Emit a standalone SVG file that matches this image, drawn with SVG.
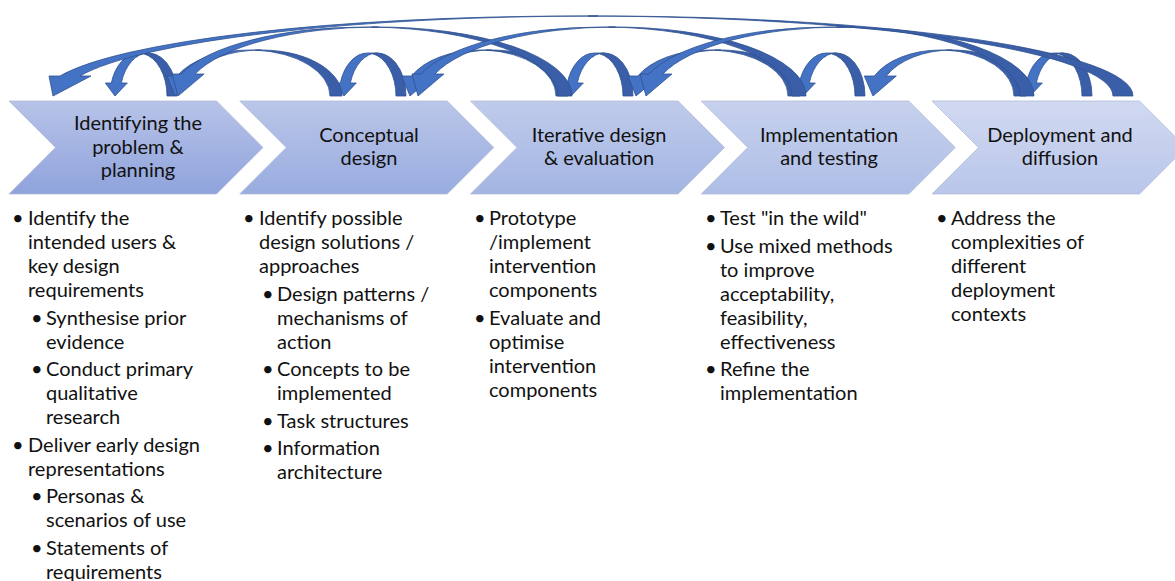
<svg xmlns="http://www.w3.org/2000/svg" xmlns:xlink="http://www.w3.org/1999/xlink" width="1175" height="581" viewBox="0 0 1175 581">
<defs>
<linearGradient id="g1" x1="0" y1="0" x2="0" y2="1"><stop offset="0" stop-color="#B7C3E8"/><stop offset="1" stop-color="#8FA3DC"/></linearGradient>
<linearGradient id="g2" x1="0" y1="0" x2="0" y2="1"><stop offset="0" stop-color="#BAC6E9"/><stop offset="1" stop-color="#98ACDF"/></linearGradient>
<linearGradient id="g3" x1="0" y1="0" x2="0" y2="1"><stop offset="0" stop-color="#C0CBEB"/><stop offset="1" stop-color="#A3B5E3"/></linearGradient>
<linearGradient id="g4" x1="0" y1="0" x2="0" y2="1"><stop offset="0" stop-color="#C7D1EE"/><stop offset="1" stop-color="#AEBEE6"/></linearGradient>
<linearGradient id="g5" x1="0" y1="0" x2="0" y2="1"><stop offset="0" stop-color="#D1D9F1"/><stop offset="1" stop-color="#B9C6EA"/></linearGradient>
<path id="chev" d="M0,101 L207.5,101 L254,147.5 L207.5,194 L0,194 L46.5,147.5 Z"/>
<g id="sm">
<path class="lt" d="M-25,96 L-12.67,83 L-18.67,83 A28.5,43 0 0 1 8.5,53 L-1.5,53 A28.5,43 0 0 0 -28.67,83 L-34.67,83 Z"/>
<path class="dk" d="M37,96 A28.5,43 0 0 0 3.5,53.67 A28.5,43 0 0 1 27,96 Z"/>
</g>
</defs>
<style>
.chev{stroke:#B3BCD8;stroke-width:0.8}
.lbl{font-family:Lato,'Liberation Sans',sans-serif;font-size:20px;fill:#111111;text-anchor:middle}
.txt{font-family:Lato,'Liberation Sans',sans-serif;font-size:20px;fill:#111111}
.lt{fill:#4472C4;stroke:#2F528F;stroke-width:0.8}
.dk{fill:#3A5FA8;stroke:#2F528F;stroke-width:0.8}
</style>
<rect width="1175" height="581" fill="#FFFFFF"/>

<g id="phase1">
<use xlink:href="#chev" href="#chev" class="chev" fill="url(#g1)" transform="translate(9,0)"/>
<text class="lbl" x="138" y="130">Identifying the</text>
<text class="lbl" x="138" y="153.5">problem &amp;</text>
<text class="lbl" x="138" y="177">planning</text>
<g class="txt">
<text x="12" y="225">•</text><text x="28" y="225">Identify the</text>
<text x="28" y="249">intended users &amp;</text>
<text x="28" y="273">key design</text>
<text x="28" y="297">requirements</text>
<text x="31" y="324.6">•</text><text x="46" y="324.6">Synthesise prior</text>
<text x="46" y="348.6">evidence</text>
<text x="31" y="376.2">•</text><text x="46" y="376.2">Conduct primary</text>
<text x="46" y="400.2">qualitative</text>
<text x="46" y="424.2">research</text>
<text x="12" y="451.8">•</text><text x="28" y="451.8">Deliver early design</text>
<text x="28" y="475.8">representations</text>
<text x="31" y="503.4">•</text><text x="46" y="503.4">Personas &amp;</text>
<text x="46" y="527.4">scenarios of use</text>
<text x="31" y="555">•</text><text x="46" y="555">Statements of</text>
<text x="46" y="579">requirements</text>
</g>
</g>

<g id="phase2">
<use xlink:href="#chev" href="#chev" class="chev" fill="url(#g2)" transform="translate(239.75,0)"/>
<text class="lbl" x="369" y="141.75">Conceptual</text>
<text class="lbl" x="369" y="165.25">design</text>
<g class="txt">
<text x="243" y="225">•</text><text x="259" y="225">Identify possible</text>
<text x="259" y="249">design solutions /</text>
<text x="259" y="273">approaches</text>
<text x="262" y="300.6">•</text><text x="277" y="300.6">Design patterns /</text>
<text x="277" y="324.6">mechanisms of</text>
<text x="277" y="348.6">action</text>
<text x="262" y="376.2">•</text><text x="277" y="376.2">Concepts to be</text>
<text x="277" y="400.2">implemented</text>
<text x="262" y="427.8">•</text><text x="277" y="427.8">Task structures</text>
<text x="262" y="455.4">•</text><text x="277" y="455.4">Information</text>
<text x="277" y="479.4">architecture</text>
</g>
</g>

<g id="phase3">
<use xlink:href="#chev" href="#chev" class="chev" fill="url(#g3)" transform="translate(470.5,0)"/>
<text class="lbl" x="599" y="141.75">Iterative design</text>
<text class="lbl" x="599" y="165.25">&amp; evaluation</text>
<g class="txt">
<text x="474" y="225">•</text><text x="489" y="225">Prototype</text>
<text x="489" y="249">/implement</text>
<text x="489" y="273">intervention</text>
<text x="489" y="297">components</text>
<text x="474" y="324.6">•</text><text x="489" y="324.6">Evaluate and</text>
<text x="489" y="348.6">optimise</text>
<text x="489" y="372.6">intervention</text>
<text x="489" y="396.6">components</text>
</g>
</g>

<g id="phase4">
<use xlink:href="#chev" href="#chev" class="chev" fill="url(#g4)" transform="translate(701.25,0)"/>
<text class="lbl" x="829" y="141.75">Implementation</text>
<text class="lbl" x="829" y="165.25">and testing</text>
<g class="txt">
<text x="705" y="225">•</text><text x="720" y="225">Test "in the wild"</text>
<text x="705" y="252.6">•</text><text x="720" y="252.6">Use mixed methods</text>
<text x="720" y="276.6">to improve</text>
<text x="720" y="300.6">acceptability,</text>
<text x="720" y="324.6">feasibility,</text>
<text x="720" y="348.6">effectiveness</text>
<text x="705" y="376.2">•</text><text x="720" y="376.2">Refine the</text>
<text x="720" y="400.2">implementation</text>
</g>
</g>

<g id="phase5">
<use xlink:href="#chev" href="#chev" class="chev" fill="url(#g5)" transform="translate(932,0)"/>
<text class="lbl" x="1060" y="141.75">Deployment and</text>
<text class="lbl" x="1060" y="165.25">diffusion</text>
<g class="txt">
<text x="936" y="225">•</text><text x="951" y="225">Address the</text>
<text x="951" y="249">complexities of</text>
<text x="951" y="273">different</text>
<text x="951" y="297">deployment</text>
<text x="951" y="321">contexts</text>
</g>
</g>

<g id="connectors">
<use xlink:href="#sm" href="#sm" transform="translate(140,0)"/>
<use xlink:href="#sm" href="#sm" transform="translate(369,0)"/>
<use xlink:href="#sm" href="#sm" transform="translate(596,0)"/>
<use xlink:href="#sm" href="#sm" transform="translate(828,0)"/>
<use xlink:href="#sm" href="#sm" transform="translate(1055,0)"/>
<!-- adjacent -->
<path class="lt" d="M175,96 L199.01,76 L189.01,76 A80.5,46 0 0 1 261.5,50 L249.5,50 A80.5,46 0 0 0 177.01,76 L167.01,76 Z"/>
<path class="dk" d="M342,96 A80.5,46 0 0 0 255.5,50.13 A80.5,46 0 0 1 330,96 Z"/>
<path class="lt" d="M410,96 L433.56,76 L423.56,76 A76,46 0 0 1 492,50 L480,50 A76,46 0 0 0 411.56,76 L401.56,76 Z"/>
<path class="dk" d="M568,96 A76,46 0 0 0 486,50.14 A76,46 0 0 1 556,96 Z"/>
<path class="lt" d="M636,96 L659.86,76 L649.86,76 A79,46 0 0 1 721,50 L709,50 A79,46 0 0 0 637.86,76 L627.86,76 Z"/>
<path class="dk" d="M800,96 A79,46 0 0 0 715,50.13 A79,46 0 0 1 788,96 Z"/>
<path class="lt" d="M873,96 L896.31,76 L886.31,76 A73.5,46 0 0 1 952.5,50 L940.5,50 A73.5,46 0 0 0 874.31,76 L864.31,76 Z"/>
<path class="dk" d="M1026,96 A73.5,46 0 0 0 946.5,50.15 A73.5,46 0 0 1 1014,96 Z"/>
<!-- skip one -->
<path class="lt" d="M178,96 L204.1,74 L195.1,74 A193.5,69 0 0 1 378.5,27 L364.5,27 A193.5,69 0 0 0 181.1,74 L172.1,74 Z"/>
<path class="dk" d="M572,96 A193.5,69 0 0 0 371.5,27.05 A193.5,69 0 0 1 558,96 Z"/>
<path class="lt" d="M418,96 L443.94,74 L434.94,74 A190.5,69 0 0 1 615.5,27 L601.5,27 A190.5,69 0 0 0 420.94,74 L411.94,74 Z"/>
<path class="dk" d="M806,96 A190.5,69 0 0 0 608.5,27.05 A190.5,69 0 0 1 792,96 Z"/>
<path class="lt" d="M646,96 L671.94,74 L662.94,74 A190.5,69 0 0 1 843.5,27 L829.5,27 A190.5,69 0 0 0 648.94,74 L639.94,74 Z"/>
<path class="dk" d="M1034,96 A190.5,69 0 0 0 836.5,27.05 A190.5,69 0 0 1 1020,96 Z"/>
<!-- longest -->
<path class="lt" d="M53,96 L90.99,76 L79.99,76 A535,80 0 0 1 598,16 L578,16 A535,80 0 0 0 59.99,76 L48.99,76 Z"/>
<path class="dk" d="M1133,96 A535,80 0 0 0 588,16.01 A535,80 0 0 1 1113,96 Z"/>
</g>
</svg>
